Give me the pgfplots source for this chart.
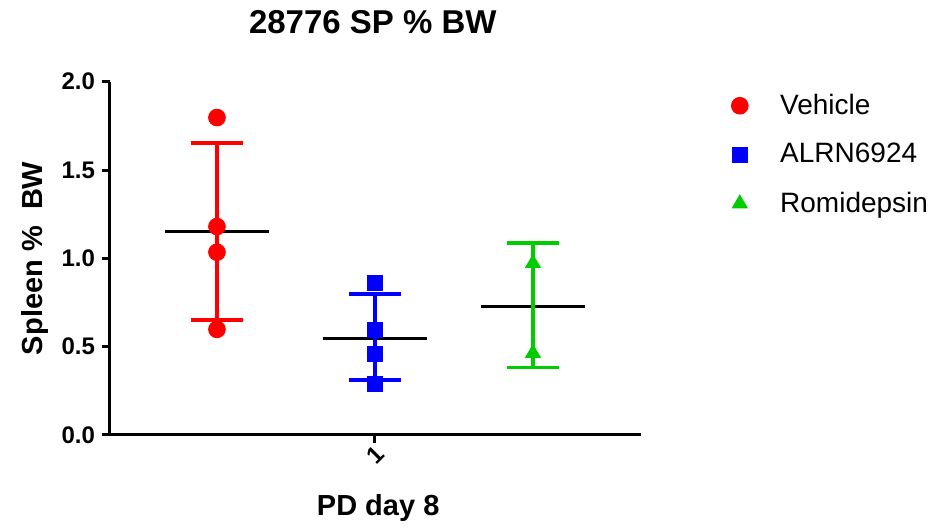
\documentclass[border=0pt]{standalone}
\usepackage{pgfplots}
\pgfplotsset{compat=1.18}
\usepackage{fontspec}
\setmainfont{Liberation Sans}
\definecolor{vred}{RGB}{255,0,0}
\definecolor{ablue}{RGB}{0,0,255}
\definecolor{rgreen}{RGB}{0,204,0}
\begin{document}
\begin{tikzpicture}
\path[use as bounding box] (0,0) rectangle (465.5pt,264.5pt);
\begin{axis}[
  at={(55pt,47pt)}, anchor=south west,
  scale only axis, width=265.5pt, height=176.65pt,
  xmin=-0.677, xmax=2.684, ymin=0, ymax=2,
  axis lines=left,
  axis line style={line width=1.5pt, -},
  xtick={1}, xticklabels={1},
  ytick={0,0.5,1,1.5,2},
  yticklabel style={/pgf/number format/fixed, /pgf/number format/fixed zerofill, /pgf/number format/precision=1},
  /pgf/number format/assume math mode=true,
  tick style={line width=1.5pt, black},
  major tick length=4pt, tick align=outside,
  ticklabel style={font=\bfseries\fontsize{12}{12}\selectfont},
  xticklabel style={yshift=-6pt, rotate=45, anchor=center},
  title={28776 SP \% BW},
  title style={at={(axis description cs:0.495,1)}, anchor=center, yshift=24pt, font=\bfseries\fontsize{16.5}{16.5}\selectfont},
  ylabel={Spleen \%\ \ BW},
  ylabel style={at={(axis description cs:-0.1412,0.5)}, anchor=center, font=\bfseries\fontsize{14.5}{14.5}\selectfont},
  xlabel={PD day 8},
  xlabel style={at={(axis description cs:0.505,-0.2066)}, anchor=center, font=\bfseries\fontsize{14.5}{14.5}\selectfont},
  unbounded coords=jump,
  clip=false,
  legend style={draw=none, fill=none, at={(axis description cs:1,1)}, anchor=north west, xshift=42pt, yshift=-2pt, font=\fontsize{14}{14}\selectfont, row sep=9pt,
    /tikz/every odd column/.append style={column sep=14pt}},
  legend cell align=left,
]
% mean lines
\addplot[black, line width=1.5pt, forget plot] coordinates {(-0.33,1.152) (0.33,1.152)};
\addplot[black, line width=1.5pt, forget plot] coordinates {(0.67,0.548) (1.33,0.548)};
\addplot[black, line width=1.5pt, forget plot] coordinates {(1.67,0.727) (2.33,0.727)};
% error bars (mean +- SD)
\addplot[vred, line width=2pt, forget plot] coordinates {(-0.165,1.652) (0.165,1.652) (0,nan) (0,1.652) (0,0.652) (0,nan) (-0.165,0.652) (0.165,0.652)};
\addplot[ablue, line width=2pt, forget plot] coordinates {(0.835,0.797) (1.165,0.797) (1,nan) (1,0.797) (1,0.311) (1,nan) (0.835,0.311) (1.165,0.311)};
\addplot[rgreen, line width=1.8pt, forget plot] coordinates {(1.835,1.086) (2.165,1.086) (2,nan) (2,1.086) (2,0.381) (2,nan) (1.835,0.381) (2.165,0.381)};
% individual values
\addplot[only marks, mark=*, mark size=4.2pt, color=vred] coordinates {(0,1.797) (0,1.180) (0,1.035) (0,0.598)};
\addlegendentry{Vehicle}
\addplot[only marks, mark=square*, mark size=3.8pt, color=ablue] coordinates {(1,0.862) (1,0.595) (1,0.459) (1,0.289)};
\addlegendentry{ALRN6924}
\addplot[only marks, mark=triangle*, mark size=4.3pt, color=rgreen] coordinates {(2,0.972) (2,0.463)};
\addlegendentry{Romidepsin}
\end{axis}
\end{tikzpicture}
\end{document}
